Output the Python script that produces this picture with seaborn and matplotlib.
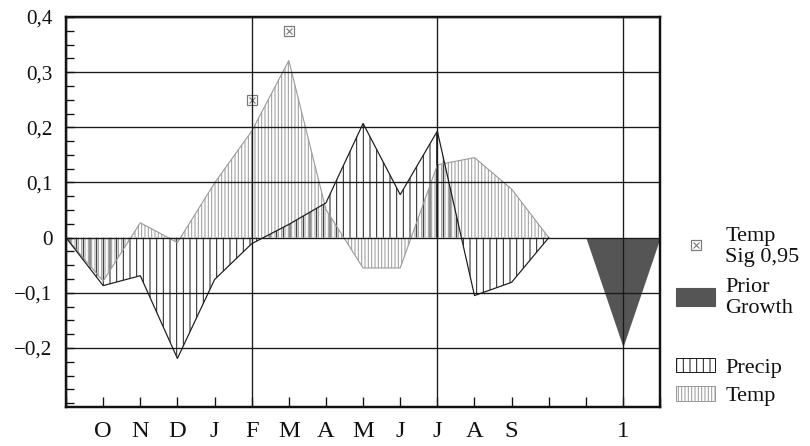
import numpy as np
import matplotlib
matplotlib.use('Agg')
import matplotlib.pyplot as plt
from matplotlib.patches import Patch
from matplotlib.ticker import MultipleLocator, FixedLocator, FuncFormatter
import seaborn as sns

# Response function values (prior Oct .. current Sep)
months = ['O', 'N', 'D', 'J', 'F', 'M', 'A', 'M', 'J', 'J', 'A', 'S']
precip = [-0.087, -0.069, -0.219, -0.076, -0.011, 0.024, 0.063, 0.207, 0.078, 0.193, -0.105, -0.081]
temp = [-0.079, 0.027, -0.009, 0.099, 0.193, 0.321, 0.051, -0.055, -0.055, 0.132, 0.145, 0.088]

# Significant temperature coefficients (Feb, Mar)
sig_months = [4, 5]
sig_values = [0.249, 0.374]

# Prior growth coefficient
prior_labels = ['1']
prior_growth = [-0.198]

y_ticks = [-0.2, -0.1, 0.0, 0.1, 0.2, 0.3, 0.4]

# Positions: series pinned to zero one step before O and one step after S
month_pos = np.arange(len(months))
line_x = np.concatenate([[month_pos[0] - 1], month_pos, [month_pos[-1] + 1]])
precip_line = np.concatenate([[0], precip, [0]])
temp_line = np.concatenate([[0], temp, [0]])
prior_pos = month_pos[-1] + 3
prior_x = [prior_pos - 1, prior_pos, prior_pos + 1]
prior_line = [0, prior_growth[0], 0]

sns.set_style('ticks')
plt.rcParams['font.family'] = ['Liberation Serif', 'DejaVu Serif']
plt.rcParams['hatch.linewidth'] = 0.9

precip_col = '#1f1f1f'
temp_col = '#9a9a9a'
prior_col = '#555555'
sig_col = '#7a7a7a'

fig, ax = plt.subplots(figsize=(810 / 80, 446 / 80), dpi=80)
fig.subplots_adjust(left=0.0815, right=0.815, bottom=0.0874, top=0.962)

# Temperature (light, dense hatching)
ax.fill_between(line_x, 0, temp_line, facecolor='none', edgecolor=temp_col,
                hatch='||||', linewidth=0)
sns.lineplot(x=line_x, y=temp_line, color=temp_col, linewidth=1.0, ax=ax)

# Precipitation (dark, wide hatching)
ax.fill_between(line_x, 0, precip_line, facecolor='none', edgecolor=precip_col,
                hatch='||', linewidth=0)
sns.lineplot(x=line_x, y=precip_line, color=precip_col, linewidth=1.1, ax=ax)

# Prior growth triangle
ax.fill_between(prior_x, 0, prior_line, color=prior_col, linewidth=0)

# Significance markers
sq, = ax.plot(sig_months, sig_values, ls='none', marker='s', ms=9.5,
              mfc='white', mec=sig_col, mew=1.1)
xx, = ax.plot(sig_months, sig_values, ls='none', marker='x', ms=5,
              mec=sig_col, mew=1.0)

# Axes limits and ticks
ax.set_xlim(line_x[0], prior_pos + 1)
ax.set_ylim(-0.307, 0.4)

tick_pos = np.arange(line_x[0], prior_pos + 2)
tick_lab = []
for p in tick_pos:
    if 0 <= p < len(months):
        tick_lab.append(months[p])
    elif p == prior_pos:
        tick_lab.append(prior_labels[0])
    else:
        tick_lab.append('')
ax.set_xticks(tick_pos)
ax.set_xticklabels(tick_lab, fontsize=22)
ax.xaxis.set_minor_locator(MultipleLocator(5, offset=4))
ax.xaxis.remove_overlapping_locs = False

ax.yaxis.set_major_locator(FixedLocator(y_ticks))
ax.yaxis.set_minor_locator(MultipleLocator(0.025))


def comma_fmt(v, _):
    if abs(v) < 1e-9:
        return '0'
    return f'{v:.1f}'.replace('.', ',').replace('-', '\u2212')


ax.yaxis.set_major_formatter(FuncFormatter(comma_fmt))
ax.tick_params(axis='y', which='major', labelsize=19, direction='in',
               length=7, width=1.2, pad=12, colors='#111111')
ax.tick_params(axis='y', which='minor', direction='in', length=7, width=1.2,
               color='#111111')
ax.tick_params(axis='x', which='major', direction='in', length=9, width=1.2,
               pad=13, colors='#111111')
ax.tick_params(axis='x', which='minor', length=0)

ax.grid(axis='y', which='major', color='#1a1a1a', linewidth=1.2)
ax.grid(axis='x', which='minor', color='#1a1a1a', linewidth=1.2)
ax.set_axisbelow(False)

for s in ax.spines.values():
    s.set_linewidth(2.2)
    s.set_color('#111111')
    s.set_visible(True)

# Legends outside, right (two blocks, as in the original)
leg_kw = dict(loc='upper left', frameon=False, fontsize=20, handlelength=1.75,
              handletextpad=0.45, borderpad=0, borderaxespad=0)
top_handles = [(sq, xx), Patch(facecolor=prior_col, edgecolor=prior_col)]
leg1 = fig.legend(top_handles, ['Temp\nSig 0,95', 'Prior\nGrowth'],
                  bbox_to_anchor=(0.835, 0.492), handleheight=0.9,
                  labelspacing=0.5, **leg_kw)
bottom_handles = [
    Patch(facecolor='white', edgecolor=precip_col, hatch='||', linewidth=0.9),
    Patch(facecolor='white', edgecolor=temp_col, hatch='||||', linewidth=0.9),
]
leg2 = fig.legend(bottom_handles, ['Precip', 'Temp'],
                  bbox_to_anchor=(0.835, 0.198), handleheight=0.6,
                  labelspacing=0.4, **leg_kw)
for t in leg1.get_texts():
    t.set_linespacing(1.15)
    t.set_color('#111111')
for t in leg2.get_texts():
    t.set_color('#111111')

fig.savefig('out.png', dpi=80)
